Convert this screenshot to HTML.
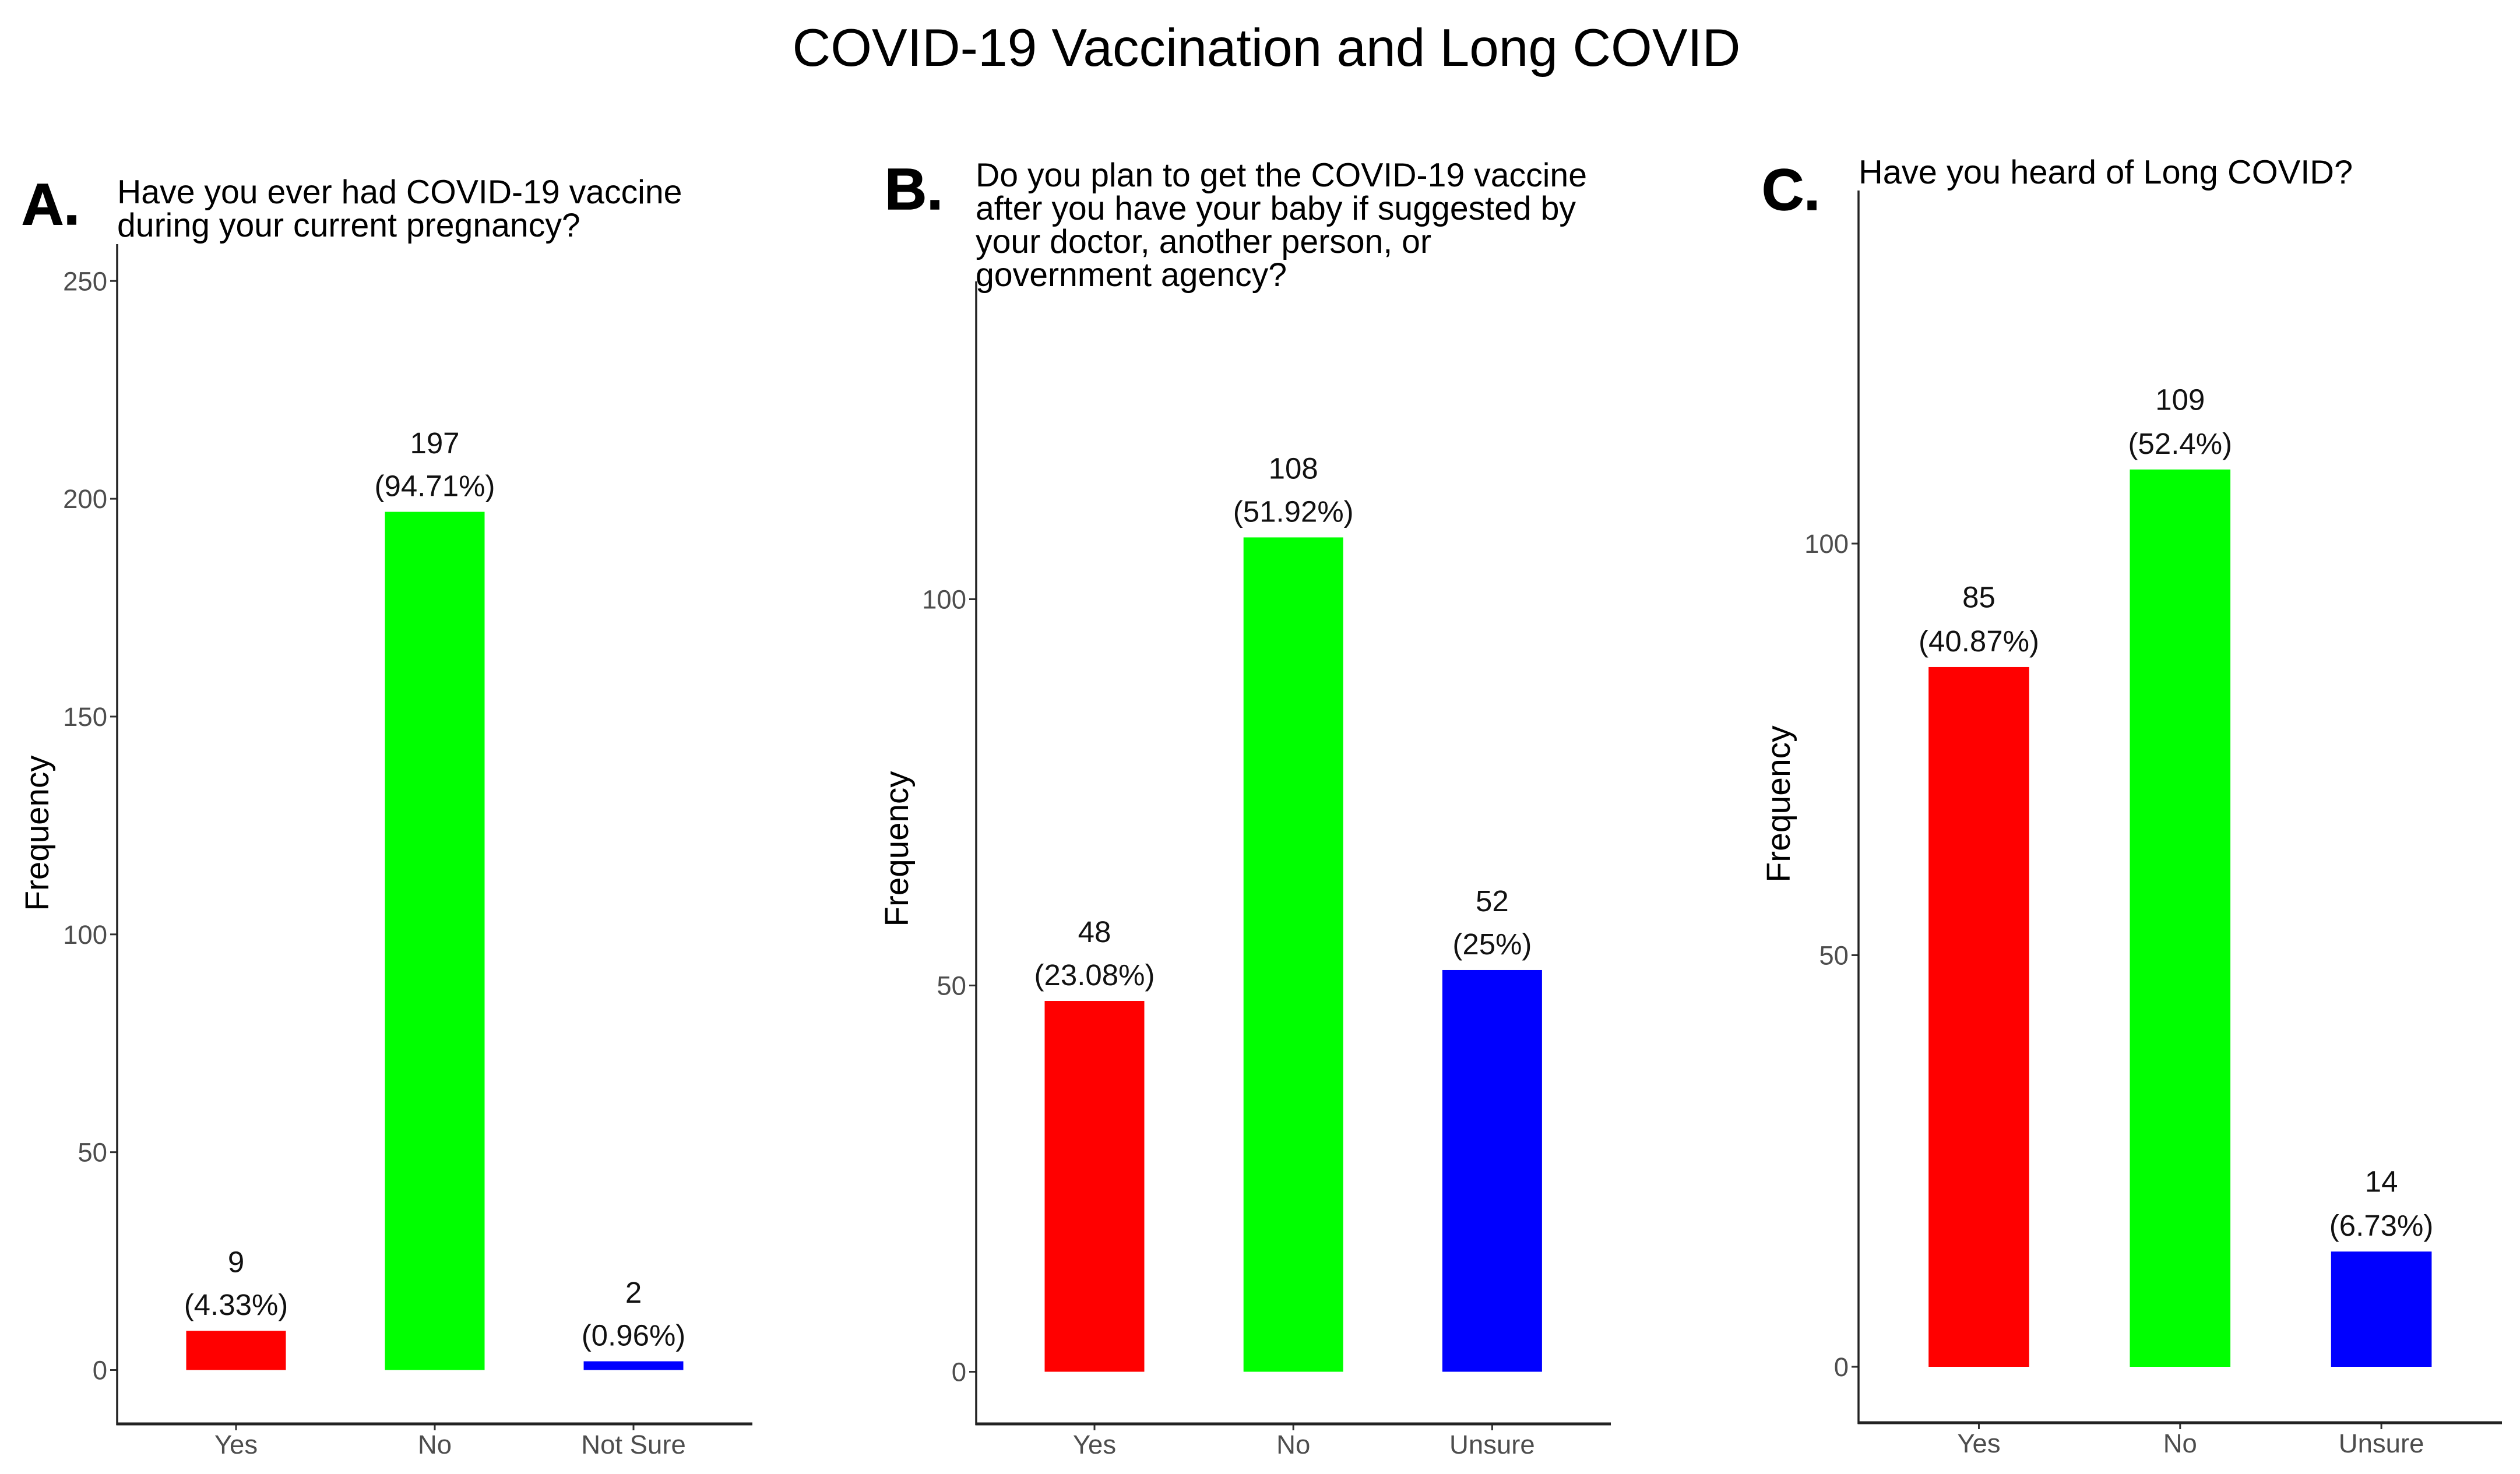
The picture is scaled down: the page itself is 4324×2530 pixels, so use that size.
<!DOCTYPE html>
<html lang="en">
<head>
<meta charset="utf-8">
<title>COVID-19 Vaccination and Long COVID</title>
<style>
  html, body { margin: 0; padding: 0; background: #fff; }
  svg { display: block; }
  text { font-family: "Liberation Sans", Arial, sans-serif; }
</style>
</head>
<body>
<svg id="figure" xmlns="http://www.w3.org/2000/svg" width="4324" height="2530" viewBox="0 0 4324 2530">
  <rect x="0" y="0" width="4324" height="2530" fill="#ffffff"/>
  <text x="2173" y="113" font-size="91" text-anchor="middle" fill="#000">COVID-19 Vaccination and Long COVID</text>

  <text x="37" y="385" font-size="100" font-weight="bold" fill="#000" stroke="#000" stroke-width="1.5">A.</text>
  <text font-size="57.2" fill="#000">
    <tspan x="201" y="349">Have you ever had COVID-19 vaccine</tspan>
    <tspan x="201" y="406">during your current pregnancy?</tspan>
  </text>

  <text x="1518" y="359" font-size="100" font-weight="bold" fill="#000" stroke="#000" stroke-width="1.5">B.</text>
  <text font-size="57.2" fill="#000">
    <tspan x="1674" y="320">Do you plan to get the COVID-19 vaccine</tspan>
    <tspan x="1674" y="377">after you have your baby if suggested by</tspan>
    <tspan x="1674" y="434">your doctor, another person, or</tspan>
    <tspan x="1674" y="491">government agency?</tspan>
  </text>

  <text x="3023" y="360" font-size="100" font-weight="bold" fill="#000" stroke="#000" stroke-width="1.5">C.</text>
  <text x="3189" y="315" font-size="57.8" fill="#000">Have you heard of Long COVID?</text>
</svg>

<script>
// Panel A data
const categoriesA = ["Yes", "No", "Not Sure"];
const valuesA = [9, 197, 2];
const percentLabelsA = ["(4.33%)", "(94.71%)", "(0.96%)"];
const tickLabelsA = [0, 50, 100, 150, 200, 250];

// Panel B data
const categoriesB = ["Yes", "No", "Unsure"];
const valuesB = [48, 108, 52];
const percentLabelsB = ["(23.08%)", "(51.92%)", "(25%)"];
const tickLabelsB = [0, 50, 100];

// Panel C data
const categoriesC = ["Yes", "No", "Unsure"];
const valuesC = [85, 109, 14];
const percentLabelsC = ["(40.87%)", "(52.4%)", "(6.73%)"];
const tickLabelsC = [0, 50, 100];

const barColors = ["#ff0000", "#00ff00", "#0000ff"];
const NS = "http://www.w3.org/2000/svg";
const svg = document.getElementById("figure");

function make(tag, attrs, content) {
  const el = document.createElementNS(NS, tag);
  for (const k in attrs) el.setAttribute(k, attrs[k]);
  if (content !== undefined) el.textContent = content;
  return el;
}

function drawPanel(p, categories, values, percents, ticks) {
  const yScale = v => p.y0 - v * p.unit;
  const xScale = i => p.firstCenter + i * p.band;

  const group = make("g", {});
  
  
  svg.appendChild(group);

  // Bars and value labels
  values.forEach((v, i) => {
    const cx = xScale(i);
    const top = yScale(v);
    const bar = make("rect", { x: cx - p.barWidth / 2, y: top, width: p.barWidth, height: p.y0 - top, fill: barColors[i] });
    
    
    group.appendChild(bar);

    const count = make("text", { x: cx, y: top - p.countOffset, "font-size": 51, "text-anchor": "middle", fill: "#111" }, String(v));
    
    
    group.appendChild(count);

    const pct = make("text", { x: cx, y: top - 27, "font-size": 51, "text-anchor": "middle", fill: "#111" }, percents[i]);
    
    
    group.appendChild(pct);

    const tick = make("line", { x1: cx, x2: cx, y1: p.axisY, y2: p.axisY + 11, stroke: "#333", "stroke-width": 3 });
    
    
    group.appendChild(tick);

    const xLabel = make("text", { x: cx, y: p.axisY + 51, "font-size": 45.5, "text-anchor": "middle", fill: "#4d4d4d" }, categories[i]);
    
    
    group.appendChild(xLabel);
  });

  // Y ticks
  ticks.forEach(t => {
    const y = yScale(t);
    const tick = make("line", { x1: p.axisX - 12, x2: p.axisX, y1: y, y2: y, stroke: "#333", "stroke-width": 3 });
    
    
    group.appendChild(tick);

    const label = make("text", { x: p.axisX - 17, y: y + 16, "font-size": 45.5, "text-anchor": "end", fill: "#4d4d4d" }, String(t));
    
    
    group.appendChild(label);
  });

  // Axis lines
  const yAxis = make("line", { x1: p.axisX, x2: p.axisX, y1: p.axisTop, y2: p.axisY + 2, stroke: "#222", "stroke-width": 3.5 });
  
  
  group.appendChild(yAxis);

  const xAxis = make("line", { x1: p.axisX - 1.5, x2: p.axisRight, y1: p.axisY, y2: p.axisY, stroke: "#222", "stroke-width": 5 });
  
  
  group.appendChild(xAxis);

  // Y axis title
  const yTitle = make("text", { transform: "translate(" + p.yTitleX + "," + p.yTitleY + ") rotate(-90)", "font-size": p.yTitleSize, "text-anchor": "middle", fill: "#000" }, "Frequency");
  
  
  group.appendChild(yTitle);
}

drawPanel(
  { id: "a", y0: 2351.5, unit: 7.477, firstCenter: 405, band: 341, barWidth: 171, axisX: 201, axisTop: 419, axisY: 2444, axisRight: 1291, yTitleX: 83, yTitleY: 1430, yTitleSize: 56.5, countOffset: 100.5 },
  categoriesA, valuesA, percentLabelsA, tickLabelsA
);
drawPanel(
  { id: "b", y0: 2354.5, unit: 13.26, firstCenter: 1878, band: 341.2, barWidth: 171, axisX: 1675, axisTop: 483, axisY: 2444, axisRight: 2764, yTitleX: 1558, yTitleY: 1457, yTitleSize: 56.5, countOffset: 101 },
  categoriesB, valuesB, percentLabelsB, tickLabelsB
);
drawPanel(
  { id: "c", y0: 2346, unit: 14.13, firstCenter: 3395.5, band: 345.3, barWidth: 172.6, axisX: 3189, axisTop: 327, axisY: 2442, axisRight: 4293, yTitleX: 3071, yTitleY: 1380, yTitleSize: 57, countOffset: 102.5 },
  categoriesC, valuesC, percentLabelsC, tickLabelsC
);
</script>
</body>
</html>
